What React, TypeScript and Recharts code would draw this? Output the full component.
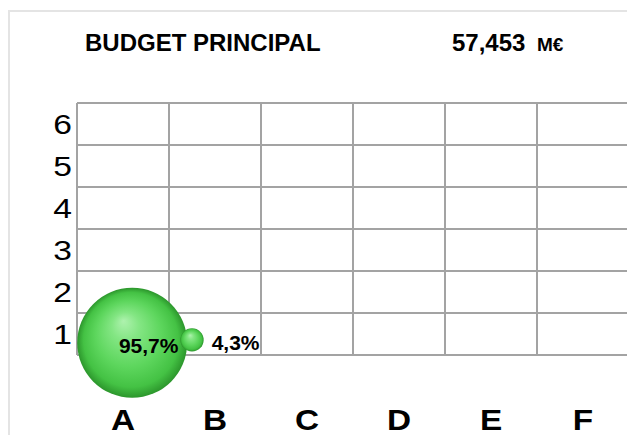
import { ReferenceLine, Scatter, ScatterChart, XAxis, YAxis, ZAxis } from "recharts";

// categories on both axes
const columns = ["A", "B", "C", "D", "E", "F"];
const rows = [1, 2, 3, 4, 5, 6];
// cell borders sit half-way between the categories
const cellBounds = [0.5, 1.5, 2.5, 3.5, 4.5, 5.5, 6.5];

// bubbles: share of the budget, placed
const shares = [95.7, 4.3];
const bubbleX = [1.1, 1.75];
const bubbleY = [0.79, 0.86];

const TITLE = "BUDGET PRINCIPAL";
const TOTAL = "57,453";
const UNIT = "M€";

const data = shares.map((share, i) => ({
  key: i,
  x: bubbleX[i],
  y: bubbleY[i],
  share,
}));

const FONT = "'Liberation Sans', Arial, sans-serif";
const GRID = "#a3a3a3";

const fmtShare = (v: number) => v.toFixed(1).replace(".", ",") + "%";

function Bubble(props: any) {
  const { cx, cy, payload } = props;
  const r = props.width ? props.width / 2 : Math.sqrt(props.size / Math.PI);
  const id = `bubble-grad-${payload.key}`;
  const big = r > 30;
  return (
    <g>
      <defs>
        <radialGradient id={id} cx="50%" cy="50%" r="50%" fx="42%" fy="30%">
          <stop offset="0%" stopColor="#aef2ae" />
          <stop offset="25%" stopColor="#84e684" />
          <stop offset="60%" stopColor="#5dd65d" />
          <stop offset="86%" stopColor="#44c244" />
          <stop offset="100%" stopColor="#2c962c" />
        </radialGradient>
      </defs>
      <circle cx={cx} cy={cy} r={r} fill={`url(#${id})`} />
      <text
        x={big ? cx + r * 0.3 : cx + r + 8}
        y={cy + 10}
        textAnchor={big ? "middle" : "start"}
        fontFamily={FONT}
        fontWeight={700}
        fontSize={21}
        fill="#000"
      >
        {fmtShare(payload.share)}
      </text>
    </g>
  );
}

// the original picture is a little stretched sideways, so the axis letters are too
function XTick({ x, y, payload }: any) {
  return (
    <text
      transform={`translate(${x},${y + 75}) scale(1.15,1)`}
      textAnchor="middle"
      fontFamily={FONT}
      fontWeight={700}
      fontSize={29}
      fill="#000"
    >
      {columns[payload.value - 1]}
    </text>
  );
}

function YTick({ x, y, payload }: any) {
  return (
    <text
      transform={`translate(${x},${y + 10}) scale(1.2,1)`}
      textAnchor="end"
      fontFamily={FONT}
      fontSize={28}
      fill="#000"
    >
      {payload.value}
    </text>
  );
}

export default function App() {
  return (
    <div
      style={{
        position: "absolute",
        left: 0,
        top: 0,
        width: 627,
        height: 435,
        overflow: "hidden",
        background: "#fff",
      }}
    >
      <div
        style={{
          position: "absolute",
          left: 8,
          top: 10,
          width: 700,
          height: 500,
          borderTop: "2px solid #e4e4e4",
          borderLeft: "2px solid #e4e4e4",
        }}
      />
      <svg width={627} height={80} style={{ position: "absolute", left: 0, top: 0 }}>
        <text x={85} y={51} fontFamily={FONT} fontWeight={700} fontSize={24} fill="#000">
          {TITLE}
        </text>
        <text x={452} y={51} fontFamily={FONT} fontWeight={700} fontSize={24} fill="#000">
          {TOTAL}
        </text>
        <text x={537} y={51} fontFamily={FONT} fontWeight={700} fontSize={19} fill="#000">
          {UNIT}
        </text>
      </svg>
      <div style={{ position: "absolute", left: 0, top: 0 }}>
        <ScatterChart width={640} height={435} margin={{ top: 103, right: 11, bottom: 20, left: 0 }}>
          <XAxis
            type="number"
            dataKey="x"
            domain={[0.5, 6.5]}
            ticks={rows}
            interval={0}
            axisLine={false}
            tickLine={false}
            tickSize={0}
            tickMargin={0}
            height={60}
            tick={<XTick />}
          />
          <YAxis
            type="number"
            dataKey="y"
            domain={[0.5, 6.5]}
            ticks={rows}
            interval={0}
            axisLine={false}
            tickLine={false}
            tickSize={0}
            tickMargin={5}
            width={77}
            tick={<YTick />}
          />
          <ZAxis type="number" dataKey="share" domain={[0, 95.7]} range={[0, 9500]} />
          {cellBounds.map((b) => (
            <ReferenceLine key={`v${b}`} x={b} stroke={GRID} strokeWidth={2} ifOverflow="visible" />
          ))}
          {cellBounds.map((b) => (
            <ReferenceLine key={`h${b}`} y={b} stroke={GRID} strokeWidth={2} ifOverflow="visible" />
          ))}
          <Scatter data={data} shape={<Bubble />} isAnimationActive={false} />
        </ScatterChart>
      </div>
    </div>
  );
}
